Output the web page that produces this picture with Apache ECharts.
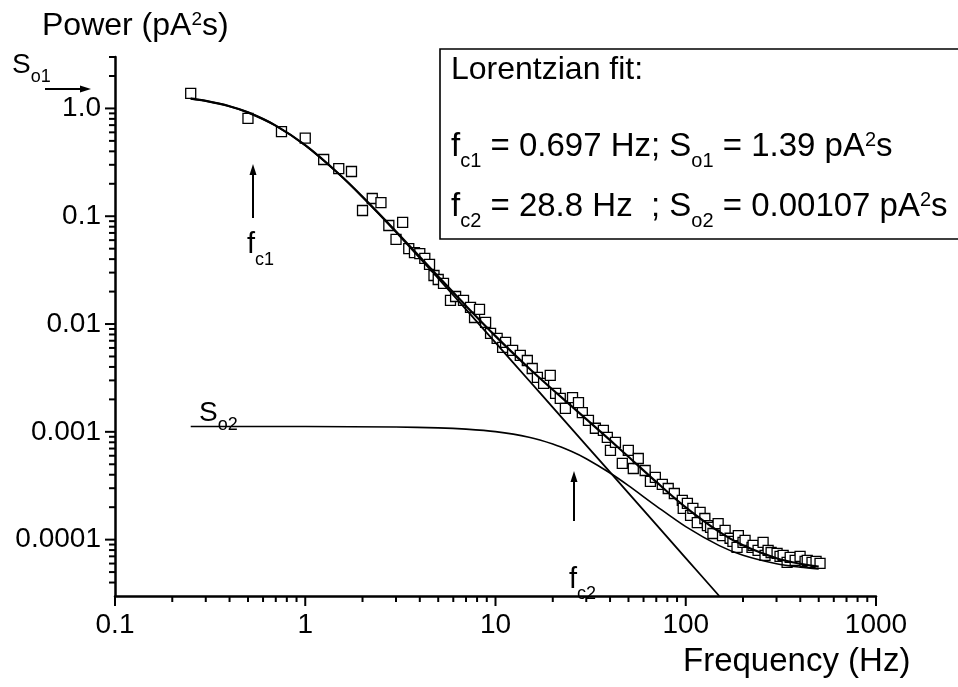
<!DOCTYPE html>
<html>
<head>
<meta charset="utf-8">
<script src="https://cdn.jsdelivr.net/npm/echarts@6/dist/echarts.min.js"></script>
<style>
html,body{margin:0;padding:0;background:#fff;}
#chart{width:958px;height:687px;}
</style>
</head>
<body>
<div id="chart"></div>
<script>
// ---------- data ----------
var freqData = [0.25,0.5,0.75,1.0,1.25,1.5,1.75,2.0,2.25,2.5,2.75,3.0,3.25,3.5,3.75,4.0,4.25,4.5,4.75,5.0,
  5.33,5.80,6.17,6.79,7.39,7.76,8.24,8.87,9.42,10.2,10.9,11.3,12.3,13.5,14.7,15.6,16.6,17.9,19.4,20.7,
  21.9,23.3,25.4,27.3,28.6,30.8,33.5,36.9,38.7,40.2,42.7,46.4,49.9,53.0,56.3,61.2,65.2,69.2,75.3,80.9,
  87.1,95.9,97.0,102,106,109,115,119,126,130,135,139,148,156,161,171,177,186,189,200,
  205,223,226,240,255,261,271,281,302,313,325,341,354,376,399,424,435,461,484,508];
var powerData = [1.38,0.81,0.61,0.53,0.336,0.277,0.26,0.113,0.146,0.134,0.082,0.061,0.0876,0.050,0.046,0.045,0.0406,0.0357,0.0282,0.0259,
  0.0238,0.01656,0.0180,0.01656,0.01426,0.0115,0.01365,0.01035,0.00818,0.00735,0.00607,0.00675,0.00569,0.00511,0.00459,0.00387,0.0032,0.00281,0.00334,0.00227,
  0.00204,0.00165,0.00208,0.00187,0.00151,0.00128,0.00108,0.00103,0.000888,0.000672,0.000797,0.000509,0.000672,0.000457,0.000566,0.000438,0.000347,0.000378,0.000325,0.000298,
  0.000268,0.000231,0.000195,0.000217,0.000168,0.000195,0.000144,0.000179,0.000157,0.000135,0.00013,0.000114,0.000141,0.000109,0.000122,0.000103,0.0000962,0.0000847,0.000109,0.0000942,
  0.0000984,0.0000847,0.0000883,0.0000794,0.0000942,0.0000713,0.0000794,0.000076,0.0000745,0.0000698,0.0000713,0.0000614,0.0000684,0.0000641,0.0000698,0.0000628,0.0000641,0.0000614,0.0000628,0.0000601];

// fitted curves
var fitFreq = [0.25,0.3,0.4,0.5,0.7,1,1.5,2,3,5,7,10,15,20,30,40,50,70,100,150,200,300,400,500];
var fitTotal = [1.233,1.174,1.047,0.919,0.693,0.4556,0.2479,0.1516,0.0723,0.02759,0.01471,0.007725,0.003887,0.002458,0.001313,0.000837,0.000587,0.000343,0.000199,0.000118,0.0000886,0.0000673,0.0000597,0.0000562];
var lorentz1Freq = [0.25,0.3,0.4,0.5,0.7,1,1.5,2,3,5,7,10,15,20,30,50,70,100,150];
var lorentz1 = [1.232,1.173,1.046,0.918,0.692,0.4545,0.2468,0.1505,0.0712,0.0265,0.01365,0.00672,0.002995,0.001686,0.00075,0.00027,0.000138,0.0000675,0.00003];
var lorentz2Freq = [0.25,1,3,5,7,10,15,20,25,30,40,50,70,100,150,200,300,400,500];
var lorentz2 = [0.00112,0.001119,0.001108,0.001089,0.00106,0.001005,0.000892,0.000772,0.00066,0.000563,0.000415,0.000317,0.000205,0.000132,0.000088,0.0000717,0.0000598,0.0000555,0.0000535];

// axes (decades)
var xRange = [0.1, 1000];
var yRange = [3e-5, 3];
var xMajorTicks = [0.1,1,10,100,1000];
var xTickLabels = ['0.1','1','10','100','1000'];
var xMinorTicks = [0.2,0.3,0.4,0.5,0.6,0.7,0.8,0.9,2,3,4,5,6,7,8,9,20,30,40,50,60,70,80,90,200,300,400,500,600,700,800,900];
var yMajorTicks = [0.0001,0.001,0.01,0.1,1];
var yTickLabels = ['0.0001','0.001','0.01','0.1','1.0'];
var yMinorTicks = [4e-5,5e-5,6e-5,7e-5,8e-5,9e-5,2e-4,3e-4,4e-4,5e-4,6e-4,7e-4,8e-4,9e-4,
  0.002,0.003,0.004,0.005,0.006,0.007,0.008,0.009,0.02,0.03,0.04,0.05,0.06,0.07,0.08,0.09,
  0.2,0.3,0.4,0.5,0.6,0.7,0.8,0.9,2,3];

// logarithmic coordinates (both axes are log10 scales)
var lg = function(v){ return Math.log10(v); };
function pairs(xs, ys){ var o=[]; for(var i=0;i<xs.length;i++) o.push([lg(xs[i]), lg(ys[i])]); return o; }
function labelFor(majors, labels){
  return function(v){
    for (var i=0;i<majors.length;i++){ if (Math.abs(v - lg(majors[i])) < 1e-6) return labels[i]; }
    return '';
  };
}
var MAJOR_LEN = 10, MINOR_LEN = 6;

var FONT = "'Liberation Sans', Arial, Helvetica, sans-serif";

// rich text helper: parts = [[text, kind]] kind: 'm' main, 's' sub, 'p' sup
function richText(x, baseline, F, f, d, u, parts){
  var L = Math.round(F*1.3);
  var hs = L + 0.693*(f-F) - 2*d;
  var hp = L + 0.693*(F-f) - 2*u;
  var txt = parts.map(function(p){ return '{'+p[1]+'|'+p[0]+'}'; }).join('');
  return {
    type:'text', x:x, y: baseline - L/2 - 0.3465*F, z:100,
    style:{
      text: txt, verticalAlign:'top', align:'left',
      rich:{
        m:{fontSize:F, fontFamily:FONT, fill:'#000', lineHeight:L, verticalAlign:'middle'},
        s:{fontSize:f, fontFamily:FONT, fill:'#000', lineHeight:4, height:hs, verticalAlign:'bottom'},
        p:{fontSize:f, fontFamily:FONT, fill:'#000', lineHeight:4, height:hp, verticalAlign:'top'}
      }
    }
  };
}
function arrow(x1,y1,x2,y2){
  var dx=x2-x1, dy=y2-y1, len=Math.sqrt(dx*dx+dy*dy), ux=dx/len, uy=dy/len;
  var hl=11, hw=3.5;
  var bx=x2-ux*hl, by=y2-uy*hl;
  return [
    {type:'line', z:100, shape:{x1:x1,y1:y1,x2:bx,y2:by}, style:{stroke:'#000', lineWidth:2}},
    {type:'polygon', z:100, shape:{points:[[x2,y2],[bx-uy*hw,by+ux*hw],[bx+uy*hw,by-ux*hw]]}, style:{fill:'#000'}}
  ];
}

var graphics = [];
// legend box
graphics.push({type:'rect', z:90, shape:{x:440, y:49, width:540, height:190}, style:{fill:'#fff', stroke:'#000', lineWidth:1.6}});
graphics.push(richText(451, 81, 32, 20, 10, 11, [['Lorentzian fit:','m']]));
graphics.push(richText(451, 158, 33, 20, 10, 11, [['f','m'],['c1','s'],[' = 0.697 Hz; S','m'],['o1','s'],[' = 1.39 pA','m'],['2','p'],['s','m']]));
graphics.push(richText(451, 218, 33, 20, 10, 11, [['f','m'],['c2','s'],[' = 28.8 Hz  ; S','m'],['o2','s'],[' = 0.00107 pA','m'],['2','p'],['s','m']]));
// axis titles
graphics.push(richText(42, 37, 32, 19, 10, 11, [['Power (pA','m'],['2','p'],['s)','m']]));
graphics.push(richText(683, 673, 33, 19, 10, 11, [['Frequency (Hz)','m']]));
// annotations
graphics.push(richText(12, 75, 28, 18, 8, 10, [['S','m'],['o1','s']]));
graphics = graphics.concat(arrow(45, 89, 91, 89));
graphics.push(richText(247, 255, 29, 18, 11, 10, [['f','m'],['c1','s']]));
graphics = graphics.concat(arrow(253, 218, 253, 164));
graphics.push(richText(199, 423, 28, 18, 8, 10, [['S','m'],['o2','s']]));
graphics.push(richText(569, 590, 29, 18, 10, 10, [['f','m'],['c2','s']]));
graphics = graphics.concat(arrow(574, 521, 574, 471));

var chart = echarts.init(document.getElementById('chart'), null, {renderer:'canvas'});
chart.setOption({
  animation:false,
  backgroundColor:'#fff',
  grid:{left:115, right:82, top:57, bottom:91, containLabel:false},
  xAxis:{
    type:'value', min:lg(xRange[0]), max:lg(xRange[1]), interval:1, position:'bottom',
    splitLine:{show:false}, minorTick:{show:false},
    axisLine:{show:true, onZero:false, lineStyle:{color:'#000', width:2.5}},
    axisTick:{show:false},
    axisLabel:{show:true, formatter:labelFor(xMajorTicks, xTickLabels), color:'#000', fontSize:28, fontFamily:FONT, margin:15}
  },
  yAxis:{
    type:'value', min:lg(yRange[0]), max:lg(yRange[1]), position:'left',
    splitLine:{show:false}, minorTick:{show:false},
    axisLine:{show:true, onZero:false, lineStyle:{color:'#000', width:2.5}},
    axisTick:{show:false},
    axisLabel:{show:true, customValues:yMajorTicks.map(lg), formatter:labelFor(yMajorTicks, yTickLabels), color:'#000', fontSize:28, fontFamily:FONT, margin:14}
  },
  series:[
    {
      name:'data', type:'scatter',
      symbol:'rect', symbolSize:10,
      itemStyle:{color:'#fff', borderColor:'#000', borderWidth:1.3, opacity:1},
      data: pairs(freqData, powerData), z:2
    },
    {
      name:'S1 Lorentzian', type:'line', showSymbol:false, symbol:'none',
      smooth:0.3, lineStyle:{color:'#000', width:1.8}, data: pairs(lorentz1Freq, lorentz1), z:3
    },
    {
      name:'S2 Lorentzian', type:'line', showSymbol:false, symbol:'none',
      smooth:0.3, lineStyle:{color:'#000', width:1.6}, data: pairs(lorentz2Freq, lorentz2), z:3
    },
    {
      name:'Total fit', type:'line', showSymbol:false, symbol:'none',
      smooth:0.3, lineStyle:{color:'#000', width:2.2}, data: pairs(fitFreq, fitTotal), z:4
    }
  ],
  graphic: graphics
});

// tick marks placed through the chart's own axis scales
var tickEls = [];
function addXTicks(list, len){
  list.forEach(function(v){
    var p = chart.convertToPixel({gridIndex:0}, [lg(v), lg(yRange[0])]);
    tickEls.push({type:'line', z:95, silent:true, shape:{x1:p[0], y1:p[1], x2:p[0], y2:p[1]+len}, style:{stroke:'#000', lineWidth:2}});
  });
}
function addYTicks(list, len){
  list.forEach(function(v){
    var p = chart.convertToPixel({gridIndex:0}, [lg(xRange[0]), lg(v)]);
    tickEls.push({type:'line', z:95, silent:true, shape:{x1:p[0]-len, y1:p[1], x2:p[0], y2:p[1]}, style:{stroke:'#000', lineWidth:2}});
  });
}
addXTicks(xMajorTicks, MAJOR_LEN);
addXTicks(xMinorTicks, MINOR_LEN);
addYTicks(yMajorTicks, MAJOR_LEN);
addYTicks(yMinorTicks, MINOR_LEN);
chart.setOption({graphic: graphics.concat(tickEls)});
</script>
</body>
</html>
